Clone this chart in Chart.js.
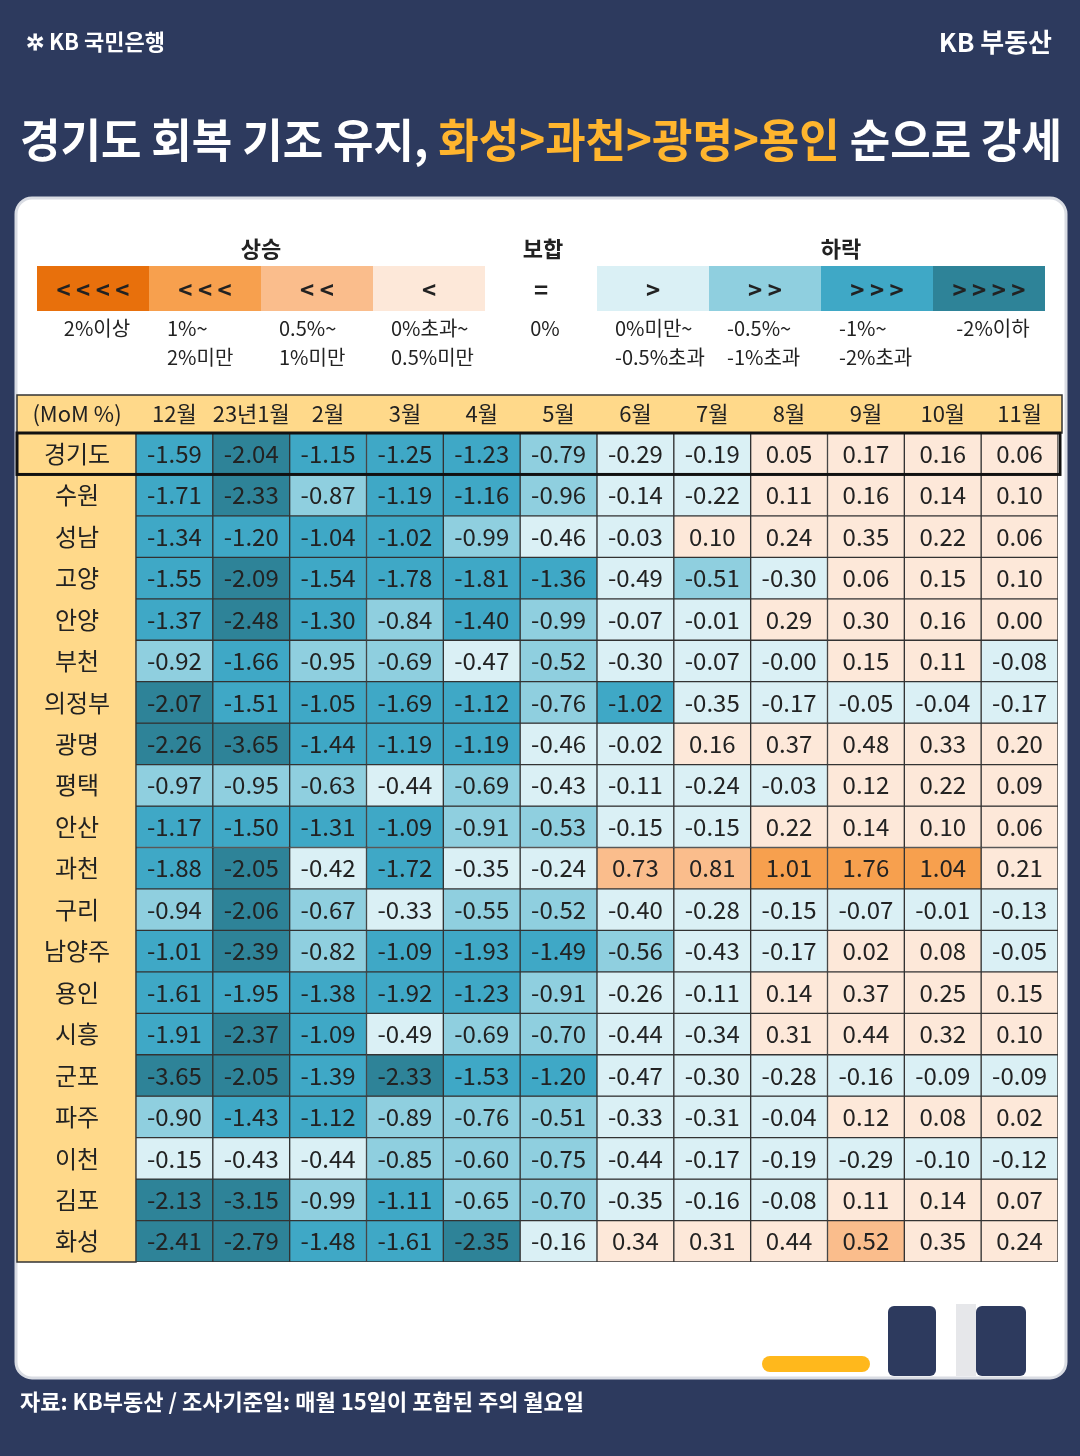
<!DOCTYPE html>
<html>
<head>
<meta charset="utf-8">
<script src="https://cdn.jsdelivr.net/npm/chart.js@4"></script>
<style>
  html, body { margin: 0; padding: 0; background: #2D3A5E; }
  canvas { display: block; }
</style>
</head>
<body>
<canvas id="heat" width="1080" height="1456" style="width:1080px;height:1456px"></canvas>
<script>
const months = ['12월', '23년1월', '2월', '3월', '4월', '5월', '6월', '7월', '8월', '9월', '10월', '11월'];
const regions = ['경기도', '수원', '성남', '고양', '안양', '부천', '의정부', '광명', '평택', '안산',
    '과천', '구리', '남양주', '용인', '시흥', '군포', '파주', '이천', '김포', '화성'];
const rows = [
    ['-1.59', '-2.04', '-1.15', '-1.25', '-1.23', '-0.79', '-0.29', '-0.19', '0.05', '0.17', '0.16', '0.06'],
    ['-1.71', '-2.33', '-0.87', '-1.19', '-1.16', '-0.96', '-0.14', '-0.22', '0.11', '0.16', '0.14', '0.10'],
    ['-1.34', '-1.20', '-1.04', '-1.02', '-0.99', '-0.46', '-0.03', '0.10', '0.24', '0.35', '0.22', '0.06'],
    ['-1.55', '-2.09', '-1.54', '-1.78', '-1.81', '-1.36', '-0.49', '-0.51', '-0.30', '0.06', '0.15', '0.10'],
    ['-1.37', '-2.48', '-1.30', '-0.84', '-1.40', '-0.99', '-0.07', '-0.01', '0.29', '0.30', '0.16', '0.00'],
    ['-0.92', '-1.66', '-0.95', '-0.69', '-0.47', '-0.52', '-0.30', '-0.07', '-0.00', '0.15', '0.11', '-0.08'],
    ['-2.07', '-1.51', '-1.05', '-1.69', '-1.12', '-0.76', '-1.02', '-0.35', '-0.17', '-0.05', '-0.04', '-0.17'],
    ['-2.26', '-3.65', '-1.44', '-1.19', '-1.19', '-0.46', '-0.02', '0.16', '0.37', '0.48', '0.33', '0.20'],
    ['-0.97', '-0.95', '-0.63', '-0.44', '-0.69', '-0.43', '-0.11', '-0.24', '-0.03', '0.12', '0.22', '0.09'],
    ['-1.17', '-1.50', '-1.31', '-1.09', '-0.91', '-0.53', '-0.15', '-0.15', '0.22', '0.14', '0.10', '0.06'],
    ['-1.88', '-2.05', '-0.42', '-1.72', '-0.35', '-0.24', '0.73', '0.81', '1.01', '1.76', '1.04', '0.21'],
    ['-0.94', '-2.06', '-0.67', '-0.33', '-0.55', '-0.52', '-0.40', '-0.28', '-0.15', '-0.07', '-0.01', '-0.13'],
    ['-1.01', '-2.39', '-0.82', '-1.09', '-1.93', '-1.49', '-0.56', '-0.43', '-0.17', '0.02', '0.08', '-0.05'],
    ['-1.61', '-1.95', '-1.38', '-1.92', '-1.23', '-0.91', '-0.26', '-0.11', '0.14', '0.37', '0.25', '0.15'],
    ['-1.91', '-2.37', '-1.09', '-0.49', '-0.69', '-0.70', '-0.44', '-0.34', '0.31', '0.44', '0.32', '0.10'],
    ['-3.65', '-2.05', '-1.39', '-2.33', '-1.53', '-1.20', '-0.47', '-0.30', '-0.28', '-0.16', '-0.09', '-0.09'],
    ['-0.90', '-1.43', '-1.12', '-0.89', '-0.76', '-0.51', '-0.33', '-0.31', '-0.04', '0.12', '0.08', '0.02'],
    ['-0.15', '-0.43', '-0.44', '-0.85', '-0.60', '-0.75', '-0.44', '-0.17', '-0.19', '-0.29', '-0.10', '-0.12'],
    ['-2.13', '-3.15', '-0.99', '-1.11', '-0.65', '-0.70', '-0.35', '-0.16', '-0.08', '0.11', '0.14', '0.07'],
    ['-2.41', '-2.79', '-1.48', '-1.61', '-2.35', '-0.16', '0.34', '0.31', '0.44', '0.52', '0.35', '0.24'],
];
const legendSymbols = ['<<<<', '<<<', '<<', '<', '=', '>', '>>', '>>>', '>>>>'];
const legendTexts = [['2%이상'], ['1%~', '2%미만'], ['0.5%~', '1%미만'], ['0%초과~', '0.5%미만'], ['0%'],
    ['0%미만~', '-0.5%초과'], ['-0.5%~', '-1%초과'], ['-1%~', '-2%초과'], ['-2%이하']];

const FONT = '"Noto Sans CJK KR", "Noto Sans", sans-serif';
const COLORS = ['#E8700C', '#F7A04E', '#FABD8C', '#FDE8D9', '#FFFFFF', '#DAF0F5', '#8FCFDF', '#3FA8C6', '#2E8398'];

function colorFor(str) {
    const v = parseFloat(str);
    const neg = v < 0 || Object.is(v, -0);
    if (!neg) {
        if (v >= 2) return COLORS[0];
        if (v >= 1) return COLORS[1];
        if (v >= 0.5) return COLORS[2];
        return COLORS[3];
    }
    if (v > -0.5) return COLORS[5];
    if (v > -1) return COLORS[6];
    if (v > -2) return COLORS[7];
    return COLORS[8];
}

function roundRect(ctx, x, y, w, h, r) {
    ctx.beginPath();
    ctx.moveTo(x + r, y);
    ctx.arcTo(x + w, y, x + w, y + h, r);
    ctx.arcTo(x + w, y + h, x, y + h, r);
    ctx.arcTo(x, y + h, x, y, r);
    ctx.arcTo(x, y, x + w, y, r);
    ctx.closePath();
}

const decor = {
    id: 'decor',
    beforeDraw(chart) {
        const ctx = chart.ctx;
        ctx.save();
        ctx.fillStyle = '#2D3A5E';
        ctx.fillRect(0, 0, 1080, 1456);

        // header
        ctx.fillStyle = '#fff';
        ctx.textBaseline = 'middle';
        ctx.font = '600 22px ' + FONT;
        ctx.textAlign = 'left';
        ctx.fillText('✲ KB 국민은행', 26, 42);
        ctx.textAlign = 'right';
        ctx.font = 'bold 26px ' + FONT;
        ctx.fillText('KB 부동산', 1052, 42);

        // title, squeezed to fit like the condensed original
        ctx.textAlign = 'left';
        ctx.font = 'bold 46px ' + FONT;
        const parts = [['경기도 회복 기조 유지, ', '#fff'], ['화성>과천>광명>용인', '#FFB52E'], [' 순으로 강세', '#fff']];
        const total = parts.reduce((s, p) => s + ctx.measureText(p[0]).width, 0);
        const k = 1042 / total;
        ctx.save();
        ctx.translate(20, 140);
        ctx.scale(k, 1);
        let tx = 0;
        parts.forEach(([t, c]) => {
            ctx.fillStyle = c;
            ctx.fillText(t, tx, 0);
            tx += ctx.measureText(t).width;
        });
        ctx.restore();

        // card
        ctx.fillStyle = '#fff';
        ctx.strokeStyle = '#D9DCE3';
        ctx.lineWidth = 3;
        roundRect(ctx, 16, 198, 1050, 1180, 16);
        ctx.fill();
        ctx.stroke();

        // legend
        ctx.fillStyle = '#222';
        ctx.textAlign = 'center';
        ctx.font = 'bold 22px ' + FONT;
        ctx.fillText('상승', 261, 249);
        ctx.fillText('보합', 543, 249);
        ctx.fillText('하락', 841, 249);
        const lx = [37, 149, 261, 373, 485, 597, 709, 821, 933];
        legendSymbols.forEach((s, i) => {
            if (i !== 4) {
                ctx.fillStyle = COLORS[i];
                ctx.fillRect(lx[i], 266, 112, 45);
            }
            ctx.fillStyle = '#222';
            ctx.font = 'bold 24px ' + FONT;
            ctx.textAlign = 'center';
            ctx.fillText(s.split('').join(' '), lx[i] + 56, 290);
            ctx.font = '20px ' + FONT;
            const t = legendTexts[i];
            if (t.length === 1) {
                ctx.fillText(t[0], lx[i] + 60, 328);
            } else {
                ctx.textAlign = 'left';
                ctx.fillText(t[0], lx[i] + 18, 328);
                ctx.fillText(t[1], lx[i] + 18, 357);
            }
        });

        // table header band & label column
        ctx.fillStyle = '#FFD98A';
        ctx.fillRect(17, 395, 1045, 38);
        ctx.fillRect(17, 433, 119, 829);
        ctx.strokeStyle = '#333';
        ctx.lineWidth = 1.5;
        ctx.strokeRect(17, 395, 1045, 38);
        ctx.strokeRect(17, 433, 119, 829);

        // bottom decoration
        ctx.fillStyle = '#2D3A5E';
        roundRect(ctx, 888, 1306, 48, 70, 6); ctx.fill();
        roundRect(ctx, 976, 1306, 50, 70, 6); ctx.fill();
        ctx.fillStyle = '#E6E7EA';
        ctx.fillRect(956, 1304, 20, 72);
        ctx.fillStyle = '#FFB81C';
        roundRect(ctx, 762, 1356, 108, 16, 8); ctx.fill();

        ctx.fillStyle = '#fff';
        ctx.textAlign = 'left';
        ctx.font = '600 22px ' + FONT;
        ctx.fillText('자료: KB부동산 / 조사기준일: 매월 15일이 포함된 주의 월요일', 20, 1402);
        ctx.restore();
    },
    afterDatasetsDraw(chart) {
        const ctx = chart.ctx;
        const xs = chart.scales.x, ys = chart.scales.y;
        ctx.save();
        ctx.textAlign = 'center';
        ctx.textBaseline = 'middle';
        ctx.fillStyle = '#222';
        ctx.font = '24px ' + FONT;
        chart.data.datasets.forEach((ds, r) => {
            chart.getDatasetMeta(r).data.forEach((el, c) => {
                ctx.fillText(rows[r][c], el.x, (el.y + el.base) / 2);
            });
            ctx.fillText(regions[r], 77, ys.getPixelForValue(r + 0.5));
        });
        ctx.font = '22px ' + FONT;
        ctx.fillText('(MoM %)', 77, 414);
        months.forEach((m, i) => ctx.fillText(m, xs.getPixelForValue(i), 414));
        // highlight first row
        ctx.strokeStyle = '#111';
        ctx.lineWidth = 3;
        ctx.strokeRect(17, ys.getPixelForValue(0), 1043, ys.getPixelForValue(1) - ys.getPixelForValue(0));
        ctx.restore();
    }
};

new Chart(document.getElementById('heat'), {
    type: 'bar',
    data: {
        labels: months,
        datasets: rows.map((row, r) => ({
            label: regions[r],
            data: row.map(() => [r, r + 1]),
            backgroundColor: row.map(colorFor),
            borderColor: '#333',
            borderWidth: 1,
            borderSkipped: false,
            barPercentage: 1,
            categoryPercentage: 1,
            grouped: false,
        })),
    },
    options: {
        responsive: false,
        devicePixelRatio: 1,
        animation: false,
        layout: { padding: { left: 136, right: 22, top: 433, bottom: 194 } },
        scales: {
            x: { display: false },
            y: { display: false, min: 0, max: 20, reverse: true },
        },
        plugins: { legend: { display: false }, tooltip: { enabled: false } },
    },
    plugins: [decor],
});
</script>
</body>
</html>
